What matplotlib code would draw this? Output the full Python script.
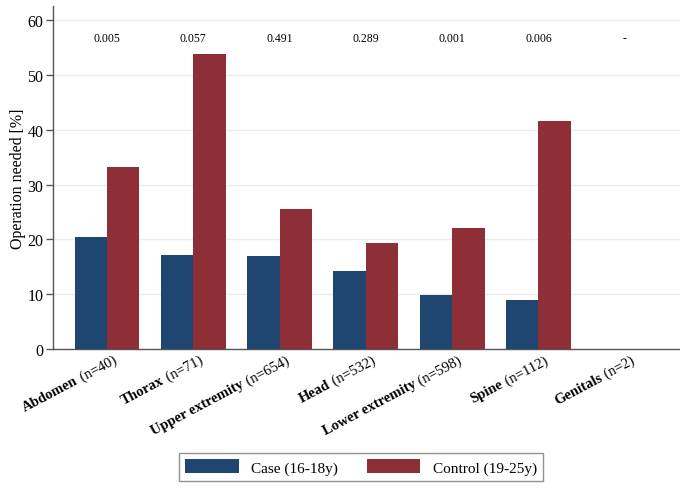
import numpy as np
import matplotlib
matplotlib.use("Agg")
import matplotlib.pyplot as plt
import matplotlib.transforms as mtransforms
from matplotlib.patches import Patch

categories = ["Abdomen", "Thorax", "Upper extremity", "Head", "Lower extremity", "Spine", "Genitals"]
counts = ["(n=40)", "(n=71)", "(n=654)", "(n=532)", "(n=598)", "(n=112)", "(n=2)"]
case_vals = [20.5, 17.2, 16.9, 14.2, 9.9, 8.9, 0.0]
control_vals = [33.3, 53.8, 25.6, 19.3, 22.1, 41.6, 0.0]
p_values = ["0.005", "0.057", "0.491", "0.289", "0.001", "0.006", "-"]
series_names = ["Case (16-18y)", "Control (19-25y)"]
yticks = [0, 10, 20, 30, 40, 50, 60]

C_CASE = "#1f4671"
C_CTRL = "#8e2f38"
FONT = "Liberation Serif"
plt.rcParams["font.family"] = FONT

DPI = 100
fig = plt.figure(figsize=(6.8, 4.89), dpi=DPI)
ax = fig.add_axes([53/680, 1-350/489, 1-53/680, (350-7)/489])

x = np.arange(len(categories))
w = 0.375
ax.bar(x - w/2, case_vals, w, color=C_CASE, zorder=3)
ax.bar(x + w/2, control_vals, w, color=C_CTRL, zorder=3)

ax.set_xlim(-0.625, 6.64)
ax.set_ylim(0, 62.6)
ax.set_yticks(yticks)
ax.set_yticklabels([str(t) for t in yticks], fontsize=11.5)
ax.yaxis.grid(True, color="#ececec", linewidth=1.0, zorder=0)
ax.set_axisbelow(True)
ax.tick_params(axis="y", direction="out", length=5, color="#555555", width=1, pad=2)
ax.tick_params(axis="x", length=0)
ax.set_xticks([])
for s in ["top", "right"]:
    ax.spines[s].set_visible(False)
for s in ["left", "bottom"]:
    ax.spines[s].set_color("#555555")
    ax.spines[s].set_linewidth(1.0)
ax.set_ylabel("Operation needed [%]", fontsize=11.5, labelpad=1)

for xi, p in zip(x, p_values):
    ax.text(xi, 56.8, p, ha="center", va="center", fontsize=8.5)

# category labels: bold name + regular count, rotated
angle = 28
rad = np.deg2rad(angle)
fig.canvas.draw()
renderer = fig.canvas.get_renderer()
base = ax.get_xaxis_transform()
fs = 10.5
for xi, cat, cnt in zip(x, categories, counts):
    tr = mtransforms.offset_copy(base, fig=fig, x=4, y=-3, units="points")
    ax.text(xi, 0, " " + cnt, transform=tr, rotation=angle, rotation_mode="anchor",
            ha="right", va="top", fontsize=fs)
    tmp = fig.text(0, 0, " " + cnt, fontsize=fs)
    wpx = tmp.get_window_extent(renderer=renderer).width
    tmp.remove()
    wpt = wpx * 72 / DPI
    tr2 = mtransforms.offset_copy(base, fig=fig, x=4 - wpt*np.cos(rad), y=-3 - wpt*np.sin(rad), units="points")
    ax.text(xi, 0, cat, transform=tr2, rotation=angle, rotation_mode="anchor",
            ha="right", va="top", fontsize=fs, fontweight="bold")

handles = [Patch(facecolor=C_CASE), Patch(facecolor=C_CTRL)]
leg = fig.legend(handles, series_names, loc="center", bbox_to_anchor=(361/680, 1-468/489),
                 ncol=2, frameon=True, fancybox=False, edgecolor="#777777", fontsize=11,
                 handlelength=3.5, handleheight=1.0, columnspacing=1.9, handletextpad=0.8,
                 borderpad=0.4)
leg.get_frame().set_linewidth(1.0)

fig.savefig("out.png", dpi=DPI)
